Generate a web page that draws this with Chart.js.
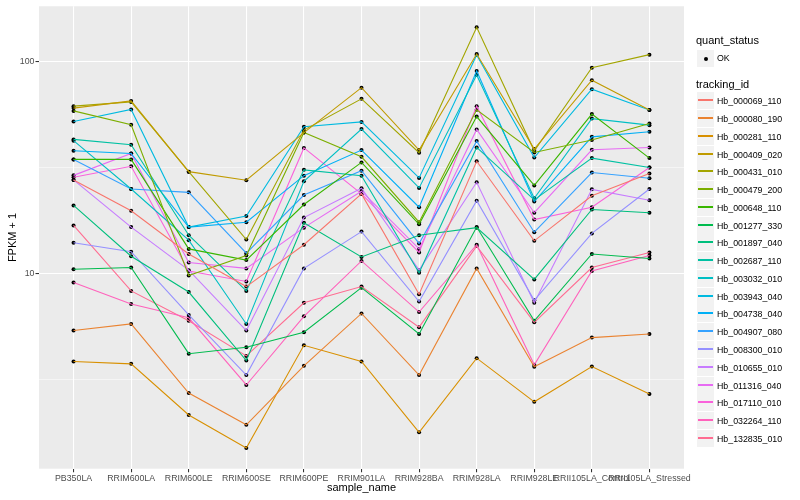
<!DOCTYPE html>
<html>
<head>
<meta charset="utf-8">
<script src="https://cdn.jsdelivr.net/npm/chart.js@4.4.1/dist/chart.umd.min.js"></script>
<style>
  body { margin: 0; background: #fff; font-family: "Liberation Sans", Arial, sans-serif; }
  #wrap { position: relative; width: 800px; height: 500px; }
  #legend { position: absolute; left: 0; top: 0; width: 800px; height: 500px; pointer-events: none; }
  .ttl { position: absolute; left: 696px; font-size: 11px; color: #000; line-height: 13px; }
  .key { position: absolute; left: 697px; width: 17px; height: 17px; background: #F2F2F2; }
  .key i { position: absolute; left: 1px; width: 15px; top: 7px; height: 2px; }
  .key b { position: absolute; left: 6.5px; top: 6.5px; width: 4px; height: 4px; border-radius: 50%; background: #000; }
  .lab { position: absolute; left: 717px; font-size: 8.8px; color: #000; line-height: 10px; white-space: nowrap; }
</style>
</head>
<body>
<div id="wrap">
  <canvas id="c" width="800" height="500"></canvas>
  <div id="legend"></div>
</div>
<script>
// sumbu x
const samples = ['PB350LA', 'RRIM600LA', 'RRIM600LE', 'RRIM600SE', 'RRIM600PE', 'RRIM901LA',
  'RRIM928BA', 'RRIM928LA', 'RRIM928LE', 'RRII105LA_Control', 'RRII105LA_Stressed'];

const trackingIds = ['Hb_000069_110', 'Hb_000080_190', 'Hb_000281_110', 'Hb_000409_020', 'Hb_000431_010',
  'Hb_000479_200', 'Hb_000648_110', 'Hb_001277_330', 'Hb_001897_040', 'Hb_002687_110',
  'Hb_003032_010', 'Hb_003943_040', 'Hb_004738_040', 'Hb_004907_080', 'Hb_008300_010',
  'Hb_010655_010', 'Hb_011316_040', 'Hb_017110_010', 'Hb_032264_110', 'Hb_132835_010'];

const colors = ['#F8766D', '#EA8331', '#D89000', '#C09B00', '#A3A500', '#7CAE00', '#39B600', '#00BB4E',
  '#00BF7D', '#00C1A3', '#00BFC4', '#00BAE0', '#00B0F6', '#35A2FF', '#9590FF', '#C77CFF',
  '#E76BF3', '#FA62DB', '#FF62BC', '#FF6C91'];

// FPKM + 1, urutan sama dengan samples
const hb_000069_110 = [27.7, 19.8, 12.4, 8.7, 13.7, 23.8, 8.0, 33.9, 14.3, 23.3, 29.7];
const hb_000080_190 = [5.4, 5.8, 2.74, 1.94, 3.68, 6.5, 3.33, 10.6, 3.64, 5.0, 5.2];
const hb_000281_110 = [3.86, 3.76, 2.16, 1.51, 4.6, 3.86, 1.79, 4.0, 2.49, 3.65, 2.71];
const hb_000409_020 = [60.4, 65.3, 30.3, 27.6, 46.3, 75.4, 38.3, 108.7, 38.7, 81.7, 59.1];
const hb_000431_010 = [61.7, 64.6, 30.3, 14.5, 47.6, 66.8, 37.2, 145.1, 38.0, 93.7, 107.9];
const hb_000479_200 = [58.6, 50.4, 9.8, 12.2, 46.3, 35.6, 17.5, 59.3, 37.3, 42.7, 51.1];
const hb_000648_110 = [34.6, 34.6, 13.1, 11.6, 21.2, 33.5, 17.1, 55.1, 26.1, 56.6, 35.1];
const hb_001277_330 = [10.5, 10.7, 4.2, 4.5, 5.3, 8.6, 5.2, 16.6, 6.0, 12.4, 11.8];
const hb_001897_040 = [21.0, 12.1, 8.2, 3.9, 17.4, 12.0, 15.2, 16.5, 9.4, 20.1, 19.4];
const hb_002687_110 = [43.0, 40.6, 15.2, 8.3, 30.9, 29.0, 10.1, 39.4, 22.3, 35.1, 31.7];
const hb_003032_010 = [42.4, 25.1, 14.4, 5.8, 27.3, 48.1, 25.4, 86.6, 22.7, 53.9, 50.2];
const hb_003943_040 = [52.2, 59.5, 16.6, 18.7, 49.3, 52.0, 28.3, 107.5, 35.3, 74.2, 59.1];
const hb_004738_040 = [38.0, 36.9, 16.6, 17.5, 29.0, 38.3, 20.6, 90.4, 21.9, 44.2, 46.7];
const hb_004907_080 = [34.6, 25.1, 24.2, 12.5, 23.5, 30.6, 13.9, 42.2, 15.7, 30.0, 28.2];
const hb_008300_010 = [14.0, 12.7, 6.4, 3.33, 10.6, 15.8, 7.4, 22.1, 7.5, 15.5, 25.1];
const hb_010655_010 = [27.7, 16.6, 10.4, 5.4, 18.4, 25.3, 10.4, 27.0, 7.3, 25.0, 22.2];
const hb_011316_040 = [29.1, 36.9, 11.3, 10.6, 16.5, 24.5, 13.1, 47.9, 19.4, 38.4, 39.4];
const hb_017110_010 = [28.5, 32.1, 10.3, 9.2, 39.2, 23.8, 12.6, 61.7, 18.0, 20.6, 31.7];
const hb_032264_110 = [9.1, 7.2, 6.2, 2.99, 6.3, 11.5, 6.6, 13.7, 3.72, 10.3, 12.2];
const hb_132835_010 = [16.9, 8.3, 6.0, 4.1, 7.3, 8.7, 5.6, 13.5, 5.9, 10.7, 12.6];

const series = [hb_000069_110, hb_000080_190, hb_000281_110, hb_000409_020, hb_000431_010,
  hb_000479_200, hb_000648_110, hb_001277_330, hb_001897_040, hb_002687_110,
  hb_003032_010, hb_003943_040, hb_004738_040, hb_004907_080, hb_008300_010,
  hb_010655_010, hb_011316_040, hb_017110_010, hb_032264_110, hb_132835_010];

const yTicks = [3.1623, 10, 31.623, 100];   // 10 & 100 major, sisanya minor
const isMajor = v => v === 10 || v === 100;

// latar panel abu-abu ala ggplot
const panelBg = {
  id: 'panelBg',
  beforeDraw(chart) {
    const { ctx, chartArea: a } = chart;
    ctx.save();
    ctx.fillStyle = '#EBEBEB';
    ctx.fillRect(a.left, a.top, a.right - a.left, a.bottom - a.top);
    ctx.restore();
  }
};

const datasets = series.map((vals, i) => ({
  label: trackingIds[i],
  data: vals.map((v, j) => ({ x: j, y: v })),
  borderColor: colors[i],
  borderWidth: 1.1,
  pointRadius: 0,
  showLine: true,
  tension: 0
}));

// titik hitam di atas semua garis (quant_status = OK)
const okPoints = [];
series.forEach(vals => vals.forEach((v, j) => okPoints.push({ x: j, y: v })));
datasets.push({
  label: 'OK',
  data: okPoints,
  showLine: false,
  pointRadius: 2,
  pointBackgroundColor: '#000',
  pointBorderWidth: 0
});

new Chart(document.getElementById('c'), {
  type: 'scatter',
  data: { datasets },
  plugins: [panelBg],
  options: {
    responsive: false,
    animation: false,
    devicePixelRatio: 1,
    layout: { padding: { left: 0, top: 5, right: 116, bottom: 0 } },
    plugins: { legend: { display: false }, tooltip: { enabled: false } },
    scales: {
      x: {
        type: 'linear',
        min: -0.6,
        max: 10.6,
        afterBuildTicks: s => { s.ticks = samples.map((_, i) => ({ value: i })); },
        afterFit: s => { s.height = 31.3; },
        ticks: {
          callback: v => samples[v],
          autoSkip: false,
          maxRotation: 0,
          color: '#4D4D4D',
          font: { family: 'Liberation Sans', size: 8.8 },
          padding: 1
        },
        grid: { color: '#FFFFFF', lineWidth: 1.07, tickColor: '#333333', tickLength: 3.5 },
        border: { display: false },
        title: {
          display: true, text: 'sample_name', color: '#000',
          font: { family: 'Liberation Sans', size: 11 },
          padding: { top: 0, bottom: 5.4 }
        }
      },
      y: {
        type: 'logarithmic',
        min: 1.205,
        max: 182.4,
        afterBuildTicks: s => { s.ticks = yTicks.map(v => ({ value: v })); },
        afterFit: s => { s.width = 39; },
        ticks: {
          callback: v => isMajor(v) ? String(v) : '',
          color: '#4D4D4D',
          font: { family: 'Liberation Sans', size: 8.8 },
          padding: 1
        },
        grid: {
          color: '#FFFFFF',
          lineWidth: c => isMajor(c.tick.value) ? 1.07 : 0.53,
          tickColor: c => isMajor(c.tick.value) ? '#333333' : 'rgba(0,0,0,0)',
          tickLength: 3.5
        },
        border: { display: false },
        title: {
          display: true, text: 'FPKM + 1', color: '#000',
          font: { family: 'Liberation Sans', size: 11 },
          padding: { top: 6.4, bottom: 0 }
        }
      }
    }
  }
});

// legenda manual (dua bagian seperti ggplot)
function buildLegend() {
  const lg = document.getElementById('legend');
  let html = '<div class="ttl" style="top:34px">quant_status</div>';
  html += '<div class="key" style="top:50px"><b></b></div>';
  html += '<div class="lab" style="top:53px">OK</div>';
  html += '<div class="ttl" style="top:78px">tracking_id</div>';
  trackingIds.forEach((id, i) => {
    const top = Math.round(100.7 + i * 17.77 - 8.5);
    html += '<div class="key" style="top:' + top + 'px"><i style="background:' + colors[i] + '"></i></div>';
    html += '<div class="lab" style="top:' + (top + 3.5) + 'px">' + id + '</div>';
  });
  lg.innerHTML = html;
}
buildLegend();
</script>
</body>
</html>
